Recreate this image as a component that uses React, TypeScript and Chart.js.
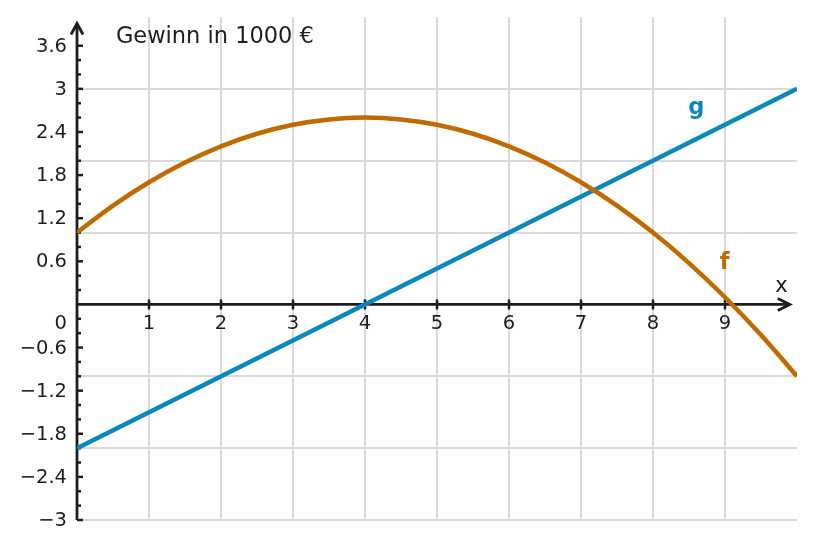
import React, { useEffect, useRef } from 'react';
import { Chart, registerables } from 'chart.js';

Chart.register(...registerables);

// ---- data ----
const fX = [0, 0.5, 1, 1.5, 2, 2.5, 3, 3.5, 4, 4.5, 5, 5.5, 6, 6.5, 7, 7.5, 8, 8.5, 9, 9.5, 10];
const fY = [1.0, 1.375, 1.7, 1.975, 2.2, 2.375, 2.5, 2.575, 2.6, 2.575, 2.5, 2.375, 2.2, 1.975, 1.7, 1.375, 1.0, 0.575, 0.1, -0.425, -1.0];
const gX = [0, 10];
const gY = [-2, 3];

const xTickValues = [1, 2, 3, 4, 5, 6, 7, 8, 9];
const xTickLabels = ['1', '2', '3', '4', '5', '6', '7', '8', '9'];
const yTickValues = [-3, -2.4, -1.8, -1.2, -0.6, 0.6, 1.2, 1.8, 2.4, 3, 3.6];
const yTickLabels = ['−3', '−2.4', '−1.8', '−1.2', '−0.6', '0.6', '1.2', '1.8', '2.4', '3', '3.6'];
const yMinorTicks = [-2.8, -2.6, -2.2, -2.0, -1.6, -1.4, -1.0, -0.8, -0.4, -0.2, 0.2, 0.4, 0.8, 1.0, 1.4, 1.6, 2.0, 2.2, 2.6, 2.8, 3.2, 3.4];
const originLabel = '0';
const titleText = 'Gewinn in 1000 €';
const fName = 'f';
const gName = 'g';
const xAxisName = 'x';

const ORANGE = '#c06a00';
const BLUE = '#0a88bc';
const AXIS = '#1e1e1e';
const GRID = '#d9d9d9';
const FONT = "'DejaVu Sans', sans-serif";

const axesPlugin = {
  id: 'customAxes',
  beforeDatasetsDraw(chart: any) {
    const { ctx, scales } = chart;
    const xs = scales.x;
    const ys = scales.y;
    const x0 = xs.getPixelForValue(0);
    const y0 = ys.getPixelForValue(0);
    const yBottom = ys.getPixelForValue(-3);
    const yTip = ys.getPixelForValue(3.91);
    const xTip = xs.getPixelForValue(9.9);
    ctx.save();
    ctx.strokeStyle = AXIS;
    ctx.fillStyle = AXIS;
    ctx.lineWidth = 2.8;
    ctx.lineCap = 'butt';
    // y axis
    ctx.beginPath();
    ctx.moveTo(x0, yBottom);
    ctx.lineTo(x0, yTip + 1);
    ctx.stroke();
    ctx.beginPath();
    ctx.lineJoin = 'miter';
    ctx.moveTo(x0 - 6, yTip + 11);
    ctx.lineTo(x0, yTip);
    ctx.lineTo(x0 + 6, yTip + 11);
    ctx.stroke();
    // x axis
    ctx.beginPath();
    ctx.moveTo(x0, y0);
    ctx.lineTo(xTip - 1, y0);
    ctx.stroke();
    ctx.beginPath();
    ctx.moveTo(xTip - 12, y0 - 6);
    ctx.lineTo(xTip, y0);
    ctx.lineTo(xTip - 12, y0 + 6);
    ctx.stroke();
    // y ticks
    ctx.lineWidth = 2.5;
    yTickValues.forEach((v) => {
      const p = ys.getPixelForValue(v);
      ctx.beginPath();
      ctx.moveTo(x0, p);
      ctx.lineTo(x0 + 6, p);
      ctx.stroke();
    });
    yMinorTicks.forEach((v) => {
      const p = ys.getPixelForValue(v);
      ctx.beginPath();
      ctx.moveTo(x0, p);
      ctx.lineTo(x0 + 4, p);
      ctx.stroke();
    });
    // x ticks
    xTickValues.forEach((v) => {
      const p = xs.getPixelForValue(v);
      ctx.beginPath();
      ctx.moveTo(p, y0 - 5);
      ctx.lineTo(p, y0 + 5);
      ctx.stroke();
    });
    // tick labels
    ctx.font = `19.5px ${FONT}`;
    ctx.fillStyle = AXIS;
    ctx.textAlign = 'right';
    ctx.textBaseline = 'middle';
    yTickValues.forEach((v, i) => {
      ctx.fillText(yTickLabels[i], x0 - 10, ys.getPixelForValue(v) + 1);
    });
    ctx.fillText(originLabel, x0 - 10, y0 + 20);
    ctx.textAlign = 'center';
    xTickValues.forEach((v, i) => {
      ctx.fillText(xTickLabels[i], xs.getPixelForValue(v), y0 + 20);
    });
    // axis name x
    ctx.font = `21px ${FONT}`;
    ctx.textBaseline = 'alphabetic';
    ctx.fillText(xAxisName, xs.getPixelForValue(9.785), ys.getPixelForValue(0.174));
    // title
    ctx.font = `22.5px ${FONT}`;
    ctx.textAlign = 'left';
    ctx.fillText(titleText, xs.getPixelForValue(0.54), ys.getPixelForValue(3.645));
    // curve names
    ctx.font = `bold 22.5px ${FONT}`;
    ctx.textAlign = 'center';
    ctx.fillStyle = BLUE;
    ctx.fillText(gName, xs.getPixelForValue(8.6), ys.getPixelForValue(2.652));
    ctx.fillStyle = ORANGE;
    ctx.fillText(fName, xs.getPixelForValue(8.996), ys.getPixelForValue(0.489));
    ctx.restore();
  },
};

export default function App() {
  const canvasRef = useRef<HTMLCanvasElement | null>(null);

  useEffect(() => {
    if (!canvasRef.current) return;
    const fData = fX.map((x, i) => ({ x, y: fY[i] }));
    const gData = gX.map((x, i) => ({ x, y: gY[i] }));
    const chart = new Chart(canvasRef.current, {
      type: 'line',
      data: {
        datasets: [
          {
            label: 'f',
            data: fData,
            borderColor: ORANGE,
            borderWidth: 4.5,
            pointRadius: 0,
            tension: 0.4,
            fill: false,
          },
          {
            label: 'g',
            data: gData,
            borderColor: BLUE,
            borderWidth: 4.5,
            pointRadius: 0,
            tension: 0,
            fill: false,
          },
        ],
      },
      options: {
        animation: false,
        responsive: true,
        maintainAspectRatio: false,
        layout: { padding: { left: 77, right: 18, top: 17, bottom: 29 } },
        plugins: {
          legend: { display: false },
          tooltip: { enabled: false },
        },
        events: [],
        scales: {
          x: {
            type: 'linear',
            min: 0,
            max: 10,
            ticks: { display: false, stepSize: 1 },
            border: { display: false },
            grid: {
              drawTicks: false,
              lineWidth: 2,
              color: (c: any) => (c.tick && c.tick.value > 0 && c.tick.value < 10 ? GRID : 'rgba(0,0,0,0)'),
            },
          },
          y: {
            type: 'linear',
            min: -3,
            max: 4,
            ticks: { display: false, stepSize: 1 },
            border: { display: false },
            grid: {
              drawTicks: false,
              lineWidth: 2,
              color: (c: any) => (c.tick && c.tick.value !== 4 && c.tick.value !== 0 ? GRID : 'rgba(0,0,0,0)'),
            },
          },
        },
      },
      plugins: [axesPlugin],
    });
    return () => chart.destroy();
  }, []);

  return (
    <div style={{ position: 'absolute', left: 0, top: 0, width: 815, height: 549, background: '#fff' }}>
      <canvas ref={canvasRef} />
    </div>
  );
}
